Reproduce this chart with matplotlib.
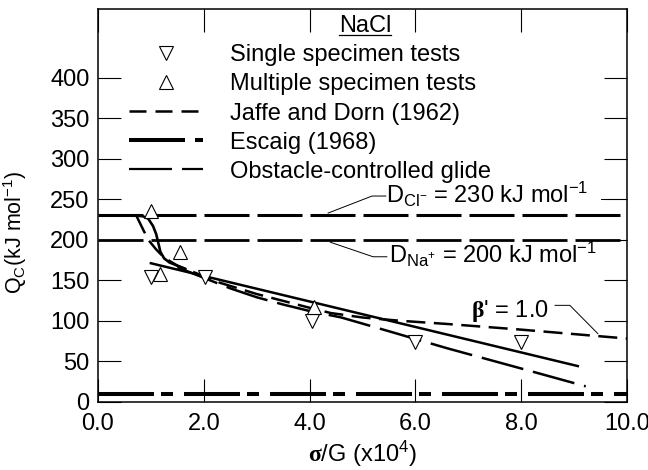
import numpy as np
import matplotlib
matplotlib.use('Agg')
import matplotlib.pyplot as plt
from matplotlib.lines import Line2D

plt.rcParams['font.family'] = ['Liberation Sans', 'DejaVu Sans']
plt.rcParams['font.size'] = 17
plt.rcParams['mathtext.fontset'] = 'custom'
plt.rcParams['mathtext.rm'] = 'Liberation Sans'
plt.rcParams['mathtext.it'] = 'Liberation Sans:italic'
plt.rcParams['mathtext.bf'] = 'Liberation Serif:bold'
plt.rcParams['mathtext.default'] = 'regular'
plt.rcParams['lines.scale_dashes'] = False

# data points
single_x = [1.0, 2.02, 4.04, 6.0, 8.0]
single_y = [154, 154, 100, 74, 74]
multi_x = [1.0, 1.17, 1.55, 4.09]
multi_y = [236, 158, 185, 117]

# horizontal levels
q_cl = 230
q_na = 200
q_low = 10

# Jaffe and Dorn (1962), beta' = 1.0
jd_x = [0.73, 0.85, 0.95, 1.10, 1.25, 1.5, 2.0, 2.3, 3.0, 4.0, 4.4, 5.0, 5.7, 6.6, 8.0, 10.0]
jd_y = [229, 213, 200, 188, 178, 168, 155, 147, 133, 116, 109.5, 104, 100, 96, 89, 78]

# obstacle-controlled glide
ob_x = [1.5, 2.0, 2.5, 3.0, 3.5, 4.0, 4.6, 5.5, 6.6, 8.0, 9.22]
ob_y = [166, 153, 140, 129, 120, 112, 104, 87, 66, 41, 19]

# sigmoid (Escaig)
sig_x = [0.70, 0.85, 0.95, 1.04, 1.10, 1.14, 1.18, 1.25, 1.35, 1.5, 1.65]
sig_y = [230, 229, 226, 217, 207, 196, 185, 177, 172, 168, 164]

# straight line
st_x = [1.0, 9.07]
st_y = [171, 44]

px = 0.72  # points per pixel at dpi 100

fig = plt.figure(figsize=(6.48, 4.70), dpi=100)
ax = fig.add_axes([98/648, 1-401.7/470, 529/648, 392.7/470])

long_dash = (45*px, 8*px)
ax.plot([0, 10], [q_cl, q_cl], color='black', lw=2.2, dashes=long_dash)
ax.plot([0, 10], [q_na, q_na], color='black', lw=2.0, dashes=long_dash)
esc_dash = (56*px, 7*px, 12*px, 11*px)
ax.plot([0, 10], [q_low, q_low], color='black', lw=2.9, dashes=esc_dash)

ax.plot(sig_x, sig_y, color='black', lw=1.9)
ax.plot(st_x, st_y, color='black', lw=1.8)
ax.plot(jd_x, jd_y, color='black', lw=1.8, dashes=(19*px, 8.5*px))
ax.plot(ob_x, ob_y, color='black', lw=1.8, dashes=(43*px, 10*px))

ax.plot(single_x, single_y, 'v', ms=9.5, mfc='white', mec='black', mew=0.8, ls='none')
ax.plot(multi_x, multi_y, '^', ms=9.5, mfc='white', mec='black', mew=0.8, ls='none')

# legend
handles = [
    Line2D([], [], marker='v', ms=9.5, mfc='white', mec='black', mew=0.8, ls='none'),
    Line2D([], [], marker='^', ms=9.5, mfc='white', mec='black', mew=0.8, ls='none'),
    Line2D([], [], color='black', lw=1.8, dashes=(17*px, 9*px)),
    Line2D([], [], color='black', lw=2.9, dashes=(56*px, 10*px, 12*px, 10*px)),
    Line2D([], [], color='black', lw=1.6, dashes=(43*px, 10*px)),
]
labels = ['Single specimen tests', 'Multiple specimen tests', 'Jaffe and Dorn (1962)',
          'Escaig (1968)', 'Obstacle-controlled glide']
ax.legend(handles, labels, loc='upper left', bbox_to_anchor=(0.0586, 0.91),
          frameon=False, borderpad=0, borderaxespad=0, handlelength=3.13,
          handletextpad=1.15, labelspacing=0.3, fontsize=17)

# NaCl title
ax.text(5.05, 456, 'NaCl', ha='center', va='baseline')
ax.plot([4.56, 5.54], [453, 453], color='black', lw=0.9)

# annotations
ax.text(5.45, 245, r'D$_{Cl^{-}}$ = 230 kJ mol$^{-1}$', ha='left', va='baseline')
ax.plot([4.35, 5.18, 5.44], [233, 254, 254], color='black', lw=0.7)
ax.plot([9.51, 9.89], [250, 250], color='black', lw=0.7)
ax.text(5.5, 171, r'D$_{Na^{+}}$ = 200 kJ mol$^{-1}$', ha='left', va='baseline')
ax.plot([4.39, 5.2, 5.46], [197, 179, 179], color='black', lw=0.7)
ax.text(7.05, 104.6, r"$\mathbf{β}$' = 1.0", ha='left', va='baseline')
ax.plot([8.64, 8.92, 9.45], [119, 119, 84], color='black', lw=0.7)

ax.set_xlim(0, 10)
ax.set_ylim(0, 485)
ax.set_xticks(np.arange(0, 10.1, 2))
ax.set_xticklabels(['0.0', '2.0', '4.0', '6.0', '8.0', '10.0'])
ax.set_yticks(np.arange(0, 401, 50))
ax.tick_params(direction='in', length=16.5, width=0.8, top=True, right=True)
ax.tick_params(axis='x', pad=8)
ax.tick_params(axis='y', pad=6)
for s in ax.spines.values():
    s.set_linewidth(1.1)

ax.set_xlabel(r'$\mathbf{σ}$/G (x10$^{4}$)', labelpad=3)
ax.set_ylabel(r'Q$_{C}$(kJ mol$^{-1}$)', fontsize=15.5)
ax.yaxis.set_label_coords(-0.13, 0.432)

fig.savefig('out.png', dpi=100)
